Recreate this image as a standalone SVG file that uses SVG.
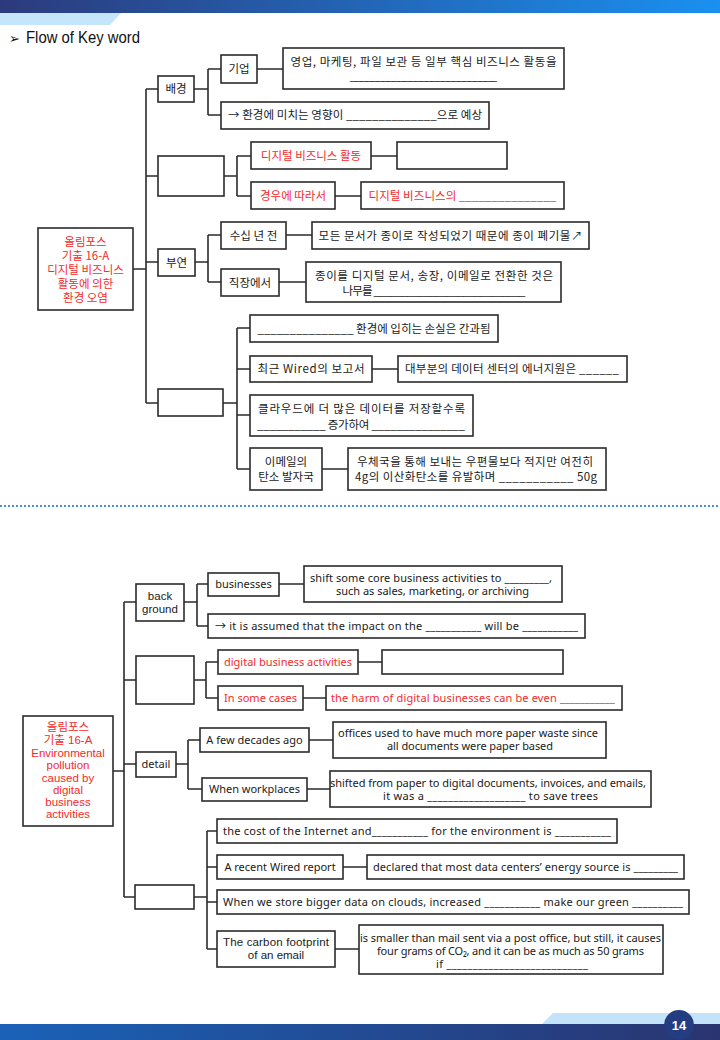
<svg xmlns="http://www.w3.org/2000/svg" width="720" height="1040" viewBox="0 0 720 1040">
<defs>
<linearGradient id="hdr" x1="0" y1="0" x2="1" y2="0">
<stop offset="0" stop-color="#2c3a7c"/>
<stop offset="1" stop-color="#1a90f0"/>
</linearGradient>
<linearGradient id="ftr" x1="0" y1="0" x2="1" y2="0">
<stop offset="0" stop-color="#1a62b8"/>
<stop offset="1" stop-color="#2a3470"/>
</linearGradient>
<style>
.n rect{fill:#fff;stroke:#2b2b2b;stroke-width:1.6}
.k{font-family:"Noto Sans CJK KR",sans-serif;font-size:11.5px;fill:#1a1a1a;text-anchor:middle}
.e{font-family:"Noto Sans","Noto Sans CJK KR",sans-serif;font-size:11px;fill:#1a1a1a;text-anchor:middle}
.rt{font-family:"Liberation Sans","Noto Sans CJK KR",sans-serif;font-size:11.5px;fill:#1a1a1a;text-anchor:middle}
.red{fill:#f42a2a}
#connectors path{fill:none;stroke:#2b2b2b;stroke-width:1.6}
</style>
</defs>
<rect width="720" height="1040" fill="#fff"/>
<!-- header -->
<rect x="0" y="0" width="720" height="13" fill="url(#hdr)"/>
<polygon points="0,13 121,13 110,25 0,25" fill="#c5e5fb"/>
<text x="9" y="43" font-family="DejaVu Sans,sans-serif" font-size="13" fill="#111">➢</text>
<text x="26" y="43" font-family="Liberation Sans,sans-serif" font-size="16" fill="#111" textLength="114" lengthAdjust="spacingAndGlyphs">Flow of Key word</text>
<!-- footer -->
<polygon points="553,1013 720,1013 720,1024 542,1024" fill="#c3e3fb"/>
<rect x="0" y="1024" width="720" height="16" fill="url(#ftr)"/>
<circle cx="679" cy="1025" r="15" fill="#243c80"/>
<text x="679" y="1030" text-anchor="middle" font-family="Liberation Sans,sans-serif" font-weight="bold" font-size="13" fill="#fff">14</text>
<!-- separator -->
<line x1="0" y1="506" x2="720" y2="506" stroke="#4a90d9" stroke-width="2" stroke-dasharray="2,2"/>

<g id="connectors">
<path d="M133 269H146M146 89V403M146 89H158M146 176H158M146 262H158M146 403H158"/>
<path d="M194 89H208M208 69V115M208 69H221M208 115H221M257 69H283"/>
<path d="M224 176H237M237 156V196M237 156H251M237 196H251M371 156H397M335 196H361"/>
<path d="M195 262H208M208 235V282M208 235H221M208 282H221M286 235H312M279 282H306"/>
<path d="M223 403H237M237 328V469M237 328H250M237 369H250M237 415H250M237 469H250M372 369H398M322 469H348"/>
<path d="M113 771H124M124 602V897M124 602H136M124 680H136M124 764H136M124 897H135"/>
<path d="M184 602H197M197 584V626M197 584H208M197 626H208M279 584H304"/>
<path d="M194 680H206M206 662V698M206 662H218M206 698H218M358 662H382M303 698H326"/>
<path d="M176 764H188M188 740V789M188 740H200M188 789H202M309 740H333M307 789H330"/>
<path d="M194 897H207M207 831V949M207 831H217M207 867H217M207 902H217M207 949H217M343 867H367M335 949H359"/>
</g>

<!-- Korean section -->
<g id="k-root" class="n"><rect x="38" y="228" width="95" height="82"/>
<text class="k red" x="85.5" y="246">올림포스</text><text class="k red" x="85.5" y="260">기출 16-A</text><text class="k red" x="85.5" y="274">디지털 비즈니스</text><text class="k red" x="85.5" y="288">활동에 의한</text><text class="k red" x="85.5" y="302">환경 오염</text></g>
<g id="k-bg" class="n"><rect x="158" y="76" width="36" height="26"/><text class="k" x="176" y="93">배경</text></g>
<g id="k-blank1" class="n"><rect x="158" y="156" width="66" height="40"/></g>
<g id="k-detail" class="n"><rect x="158" y="249" width="37" height="27"/><text class="k" x="176.5" y="267">부연</text></g>
<g id="k-blank2" class="n"><rect x="158" y="389" width="65" height="27"/></g>
<g id="k-firm" class="n"><rect x="221" y="55" width="36" height="28"/><text class="k" x="239" y="73">기업</text></g>
<g id="k-firm-d" class="n"><rect x="283" y="48" width="281" height="41"/>
<text class="k" x="423.5" y="66" textLength="266">영업, 마케팅, 파일 보관 등 일부 핵심 비즈니스 활동을</text>
<text class="rt" x="423.5" y="80" textLength="147">___________________________</text></g>
<g id="k-impact" class="n"><rect x="221" y="102" width="268" height="27"/><text class="k" x="355" y="119" textLength="254">→ 환경에 미치는 영향이 ______________으로 예상</text></g>
<g id="k-dba" class="n"><rect x="251" y="142" width="120" height="27"/><text class="k red" x="311" y="160">디지털 비즈니스 활동</text></g>
<g id="k-dba-d" class="n"><rect x="397" y="142" width="110" height="27"/></g>
<g id="k-case" class="n"><rect x="251" y="182" width="84" height="27"/><text class="k red" x="293" y="200">경우에 따라서</text></g>
<g id="k-case-d" class="n"><rect x="361" y="182" width="203" height="27"/><text class="k red" x="462.5" y="200" textLength="188">디지털 비즈니스의 _______________</text></g>
<g id="k-decades" class="n"><rect x="221" y="222" width="65" height="27"/><text class="k" x="253.5" y="240">수십 년 전</text></g>
<g id="k-decades-d" class="n"><rect x="312" y="222" width="277" height="27"/><text class="k" x="450.5" y="240" textLength="264">모든 문서가 종이로 작성되었기 때문에 종이 폐기물↗</text></g>
<g id="k-work" class="n"><rect x="221" y="269" width="58" height="27"/><text class="k" x="250" y="287">직장에서</text></g>
<g id="k-work-d" class="n"><rect x="306" y="262" width="255" height="40"/>
<text class="k" x="434" y="280" textLength="238">종이를 디지털 문서, 송장, 이메일로 전환한 것은</text>
<text class="k" x="434" y="295" textLength="183">나무를 ___________________________</text></g>
<g id="k-cost" class="n"><rect x="250" y="315" width="248" height="27"/><text class="k" x="374" y="333" textLength="233">_______________ 환경에 입히는 손실은 간과됨</text></g>
<g id="k-wired" class="n"><rect x="250" y="356" width="122" height="26"/><text class="k" x="311" y="373" textLength="107">최근 Wired의 보고서</text></g>
<g id="k-wired-d" class="n"><rect x="398" y="356" width="229" height="26"/><text class="k" x="512" y="373" textLength="214">대부분의 데이터 센터의 에너지원은 ______</text></g>
<g id="k-cloud" class="n"><rect x="250" y="395" width="223" height="41"/>
<text class="k" x="361.5" y="413" textLength="207">클라우드에 더 많은 데이터를 저장할수록</text>
<text class="k" x="361" y="429" textLength="208">___________ 증가하여 _______________</text></g>
<g id="k-carbon" class="n"><rect x="250" y="448" width="72" height="42"/>
<text class="k" x="286" y="466">이메일의</text><text class="k" x="286" y="481">탄소 발자국</text></g>
<g id="k-carbon-d" class="n"><rect x="348" y="448" width="258" height="42"/>
<text class="k" x="475" y="466" textLength="236">우체국을 통해 보내는 우편물보다 적지만 여전히</text>
<text class="k" x="476" y="481" textLength="242">4g의 이산화탄소를 유발하며 ___________ 50g</text></g>

<!-- English section -->
<g id="e-root" class="n"><rect x="23" y="716" width="90" height="110"/>
<text class="rt red" x="68" y="731">올림포스</text><text class="rt red" x="68" y="744">기출 16-A</text>
<text class="rt red" x="68" y="757">Environmental</text><text class="rt red" x="68" y="769">pollution</text><text class="rt red" x="68" y="782">caused by</text><text class="rt red" x="68" y="794">digital</text><text class="rt red" x="68" y="806">business</text><text class="rt red" x="68" y="818">activities</text></g>
<g id="e-bg" class="n"><rect x="136" y="584" width="48" height="37"/><text class="rt" x="160" y="600">back</text><text class="rt" x="160" y="613">ground</text></g>
<g id="e-blank1" class="n"><rect x="136" y="656" width="58" height="48"/></g>
<g id="e-detail" class="n"><rect x="136" y="752" width="40" height="25"/><text class="e" x="156" y="768">detail</text></g>
<g id="e-blank2" class="n"><rect x="135" y="885" width="59" height="24"/></g>
<g id="e-biz" class="n"><rect x="208" y="573" width="71" height="23"/><text class="e" x="243.5" y="588">businesses</text></g>
<g id="e-biz-d" class="n"><rect x="304" y="566" width="258" height="36"/>
<text class="e" x="431" y="582" textLength="242">shift some core business activities to _________,</text>
<text class="e" x="432.5" y="595" textLength="193">such as sales, marketing, or archiving</text></g>
<g id="e-impact" class="n"><rect x="208" y="614" width="377" height="24"/><text class="e" x="396.5" y="630" textLength="363">→ it is assumed that the impact on the ___________ will be ___________</text></g>
<g id="e-dba" class="n"><rect x="218" y="650" width="140" height="24"/><text class="e red" x="288" y="666" textLength="128">digital business activities</text></g>
<g id="e-dba-d" class="n"><rect x="382" y="650" width="181" height="24"/></g>
<g id="e-case" class="n"><rect x="218" y="686" width="85" height="24"/><text class="e red" x="260.5" y="702">In some cases</text></g>
<g id="e-case-d" class="n"><rect x="326" y="686" width="296" height="24"/><text class="e red" x="473" y="702" textLength="284">the harm of digital businesses can be even ___________</text></g>
<g id="e-decades" class="n"><rect x="200" y="728" width="109" height="24"/><text class="e" x="254.5" y="744">A few decades ago</text></g>
<g id="e-decades-d" class="n"><rect x="333" y="722" width="273" height="36"/>
<text class="e" x="468" y="737" textLength="260">offices used to have much more paper waste since</text>
<text class="e" x="470" y="750" textLength="166">all documents were paper based</text></g>
<g id="e-work" class="n"><rect x="202" y="778" width="105" height="23"/><text class="e" x="254.5" y="793">When workplaces</text></g>
<g id="e-work-d" class="n"><rect x="330" y="771" width="321" height="36"/>
<text class="e" x="488" y="787" textLength="316">shifted from paper to digital documents, invoices, and emails,</text>
<text class="e" x="490.5" y="800" textLength="215">it was a ___________________ to save trees</text></g>
<g id="e-cost" class="n"><rect x="217" y="819" width="400" height="24"/><text class="e" x="417" y="835" textLength="388">the cost of the Internet and___________ for the environment is ___________</text></g>
<g id="e-wired" class="n"><rect x="217" y="855" width="126" height="24"/><text class="e" x="280" y="871">A recent Wired report</text></g>
<g id="e-wired-d" class="n"><rect x="367" y="855" width="317" height="24"/><text class="e" x="525.5" y="871" textLength="305">declared that most data centers’ energy source is _________</text></g>
<g id="e-cloud" class="n"><rect x="217" y="890" width="472" height="24"/><text class="e" x="453" y="906" textLength="460">When we store bigger data on clouds, increased ___________ make our green __________</text></g>
<g id="e-carbon" class="n"><rect x="217" y="931" width="118" height="36"/><text class="rt" x="276" y="946" textLength="106">The carbon footprint</text><text class="rt" x="276" y="959">of an email</text></g>
<g id="e-carbon-d" class="n"><rect x="359" y="925" width="304" height="49"/>
<text class="e" x="510.5" y="942" textLength="301">is smaller than mail sent via a post office, but still, it causes</text>
<text class="e" x="510.5" y="955" textLength="267">four grams of CO₂, and it can be as much as 50 grams</text>
<text class="e" x="512" y="968" textLength="152">if ___________________________</text></g>
</svg>
